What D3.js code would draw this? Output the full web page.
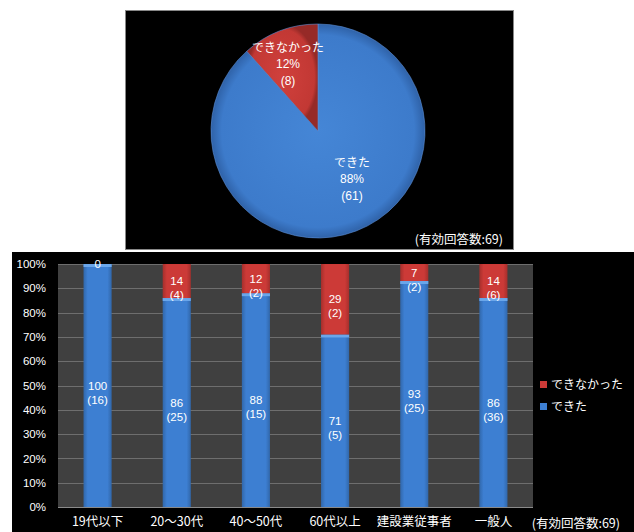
<!DOCTYPE html>
<html>
<head>
<meta charset="utf-8">
<script src="https://cdn.jsdelivr.net/npm/d3@7"></script>
<style>
  body { margin: 0; background: #fff; }
  svg { display: block; font-family: "Noto Sans CJK JP", "Noto Sans", sans-serif; }
</style>
</head>
<body>
<svg id="canvas" width="634" height="532"></svg>
<script>
// pie data
let pieLabels = ['できた', 'できなかった']
let pieCounts = [61, 8]
let piePercents = [88, 12]

// bar data
let categories = ['19代以下', '20〜30代', '40〜50代', '60代以上', '建設業従事者', '一般人']
let donePct = [100, 86, 88, 71, 93, 86]
let doneCnt = [16, 25, 15, 5, 25, 36]
let notPct = [0, 14, 12, 29, 7, 14]
let notCnt = [0, 4, 2, 2, 2, 6]
let yTicks = [0, 10, 20, 30, 40, 50, 60, 70, 80, 90, 100]
let seriesNames = ['できなかった', 'できた']
let totalLabel = '(有効回答数:69)'

let blue = '#3d7fd2'
let red = '#cc3a37'
let numFont = '"Liberation Sans", Arial, sans-serif'

let canvas = d3.select('#canvas')
let defs = canvas.append('defs')

let grad = (id, c) => {
    let g = defs.append('linearGradient').attr('id', id)
        .attr('x1', 0).attr('x2', 1).attr('y1', 0).attr('y2', 0)
    g.append('stop').attr('offset', '0%').attr('stop-color', d3.color(c).darker(0.6))
    g.append('stop').attr('offset', '15%').attr('stop-color', c)
    g.append('stop').attr('offset', '85%').attr('stop-color', c)
    g.append('stop').attr('offset', '100%').attr('stop-color', d3.color(c).darker(0.6))
}
grad('gBlue', blue)
grad('gRed', red)

let pg = defs.append('radialGradient').attr('id', 'pBlue')
pg.append('stop').attr('offset', '0%').attr('stop-color', '#4586d6')
pg.append('stop').attr('offset', '90%').attr('stop-color', '#3d7bcb')
pg.append('stop').attr('offset', '100%').attr('stop-color', '#2f62a8')
let pr = defs.append('radialGradient').attr('id', 'pRed')
pr.append('stop').attr('offset', '0%').attr('stop-color', '#d0403c')
pr.append('stop').attr('offset', '90%').attr('stop-color', '#c23834')
pr.append('stop').attr('offset', '100%').attr('stop-color', '#962a27')

// ---------- pie panel ----------
canvas.append('rect')
    .attr('x', 125.5).attr('y', 10.5).attr('width', 388).attr('height', 239)
    .attr('fill', '#000').attr('stroke', '#888')

let cx = 318, cy = 131, r = 107
let pie = d3.pie().sort(null).value(d => d)
let arcs = pie(pieCounts)
let arc = d3.arc().innerRadius(0).outerRadius(r)
let pieG = canvas.append('g').attr('transform', `translate(${cx},${cy})`)

pieG.selectAll('path')
    .data(arcs)
    .enter()
    .append('path')
    .attr('d', arc)
    .attr('fill', (d, i) => i === 0 ? 'url(#pBlue)' : 'url(#pRed)')
    .attr('stroke', '#5a8fd6')
    .attr('stroke-width', 0.6)

let pieLabelPos = [[34, 36], [-30, -79]]
arcs.forEach((a, i) => {
    let g = pieG.append('g')
        .attr('transform', `translate(${pieLabelPos[i][0]},${pieLabelPos[i][1]})`)
    let t = (txt, yy, f) => g.append('text')
        .attr('y', yy)
        .attr('fill', '#fff')
        .attr('font-size', 12)
        .attr('font-family', f)
        .attr('text-anchor', 'middle')
        .text(txt)
    t(pieLabels[i], 0, null)
    t(piePercents[i] + '%', 16, numFont)
    t('(' + pieCounts[i] + ')', 33, numFont)
})

canvas.append('text')
    .attr('x', 503).attr('y', 244)
    .attr('text-anchor', 'end')
    .attr('fill', '#fff')
    .attr('font-size', 12.5)
    .text(totalLabel)

// ---------- bar panel ----------
canvas.append('rect')
    .attr('x', 12).attr('y', 252).attr('width', 622).attr('height', 280)
    .attr('fill', '#000')

let x = d3.scaleBand().domain(categories).range([58, 533]).paddingInner(0.645).paddingOuter(0.3225)
let y = d3.scaleLinear().domain([0, 100]).range([507, 264])

canvas.append('rect')
    .attr('x', 58).attr('y', 264).attr('width', 475).attr('height', 243)
    .attr('fill', '#404040')

canvas.selectAll('.grid')
    .data(yTicks)
    .enter()
    .append('line')
    .attr('class', 'grid')
    .attr('x1', 58).attr('x2', 533)
    .attr('y1', d => Math.round(y(d)) + 0.5)
    .attr('y2', d => Math.round(y(d)) + 0.5)
    .attr('stroke', '#6e6e6e')

canvas.append('line')
    .attr('x1', 58).attr('x2', 533).attr('y1', 507.5).attr('y2', 507.5)
    .attr('stroke', '#8a8a8a')

let yAxis = canvas.append('g')
    .attr('transform', 'translate(58,0)')
    .call(d3.axisLeft(y).tickValues(yTicks).tickFormat(d => d + '%').tickSize(0).tickPadding(12))
yAxis.select('.domain').remove()
yAxis.selectAll('text').attr('fill', '#fff').attr('font-size', 11.5)
    .attr('font-family', numFont)

let xAxis = canvas.append('g')
    .attr('transform', 'translate(0,507)')
    .call(d3.axisBottom(x).tickSize(0).tickPadding(10))
xAxis.select('.domain').remove()
xAxis.selectAll('text').attr('fill', '#fff').attr('font-size', 12.5)
    .attr('font-family', '"Noto Sans CJK JP", sans-serif')

let bars = canvas.append('g')

// できた segment
bars.selectAll('.done')
    .data(categories)
    .enter()
    .append('rect')
    .attr('class', 'done')
    .attr('x', d => x(d))
    .attr('width', x.bandwidth())
    .attr('y', (d, i) => y(donePct[i]))
    .attr('height', (d, i) => y(0) - y(donePct[i]))
    .attr('fill', 'url(#gBlue)')

// top highlight on blue
bars.selectAll('.doneTop')
    .data(categories)
    .enter()
    .append('rect')
    .attr('x', d => x(d))
    .attr('width', x.bandwidth())
    .attr('y', (d, i) => y(donePct[i]))
    .attr('height', 3)
    .attr('fill', '#6aa6ea')

// できなかった segment
bars.selectAll('.not')
    .data(categories)
    .enter()
    .append('rect')
    .attr('class', 'not')
    .attr('x', d => x(d))
    .attr('width', x.bandwidth())
    .attr('y', (d, i) => y(donePct[i] + notPct[i]))
    .attr('height', (d, i) => y(donePct[i]) - y(donePct[i] + notPct[i]))
    .attr('fill', 'url(#gRed)')

// labels
categories.forEach((c, i) => {
    let cxb = x(c) + x.bandwidth() / 2
    let midDone = y(donePct[i] / 2)
    let midNot = y(donePct[i] + notPct[i] / 2)
    let lab = (txt, yy) => canvas.append('text')
        .attr('x', cxb).attr('y', yy)
        .attr('text-anchor', 'middle')
        .attr('fill', '#fff')
        .attr('font-size', 11.5)
        .attr('font-family', numFont)
        .text(txt)
    lab(donePct[i], midDone + 4)
    lab('(' + doneCnt[i] + ')', midDone + 18)
    lab(notPct[i], midNot + 4)
    if (notCnt[i] > 0) lab('(' + notCnt[i] + ')', midNot + 18)
})

// legend
let leg = canvas.append('g')
seriesNames.forEach((s, i) => {
    leg.append('rect')
        .attr('x', 540).attr('y', 381 + i * 22)
        .attr('width', 7).attr('height', 7)
        .attr('fill', i === 0 ? red : blue)
    leg.append('text')
        .attr('x', 551).attr('y', 389 + i * 22)
        .attr('fill', '#fff')
        .attr('font-size', 12)
        .text(s)
})

canvas.append('text')
    .attr('x', 620).attr('y', 528)
    .attr('text-anchor', 'end')
    .attr('fill', '#fff')
    .attr('font-size', 12.5)
    .text(totalLabel)
</script>
</body>
</html>
